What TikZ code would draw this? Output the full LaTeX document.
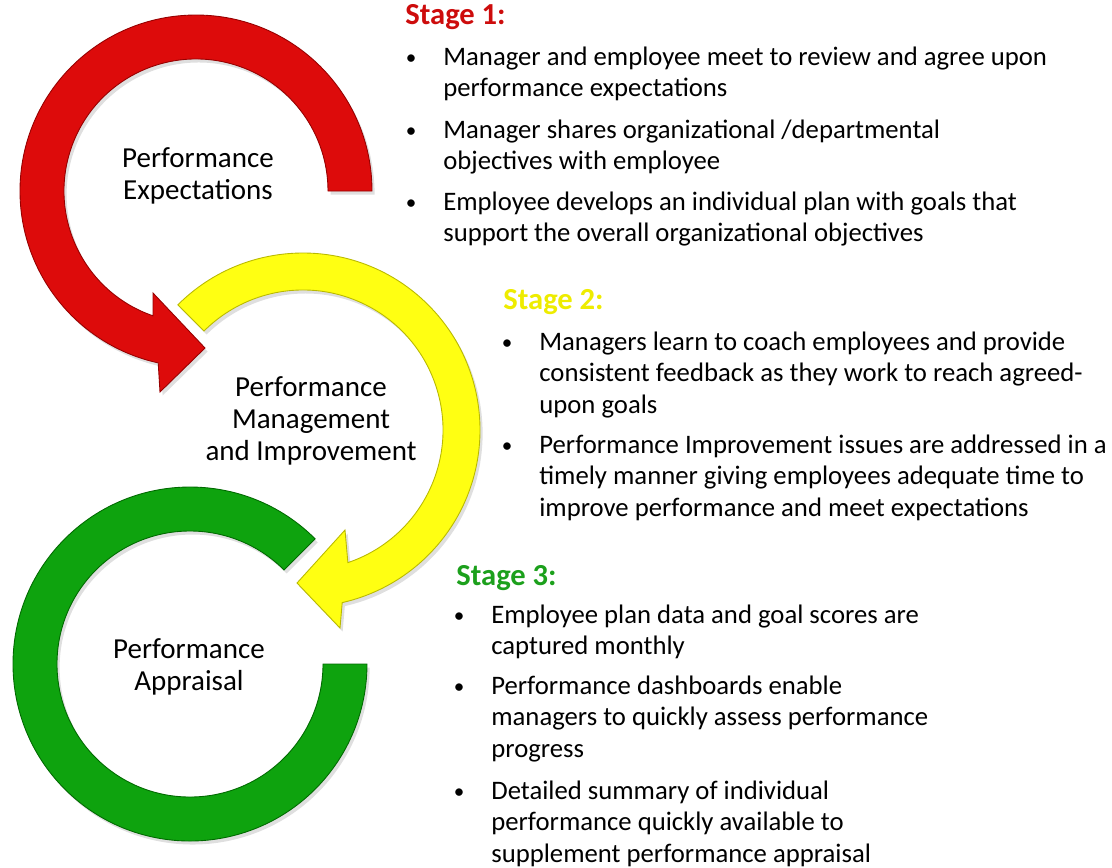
\documentclass[tikz,border=0pt]{standalone}
\usepackage{fontspec}
\setmainfont{Carlito}
\usetikzlibrary{calc, shadows}
\definecolor{redfill}{RGB}{221,11,11}
\definecolor{rededge}{RGB}{150,0,0}
\definecolor{yellowfill}{RGB}{255,255,18}
\definecolor{yellowedge}{RGB}{185,185,0}
\definecolor{greenfill}{RGB}{14,163,14}
\definecolor{greenedge}{RGB}{0,105,0}
\definecolor{stageone}{RGB}{205,12,12}
\definecolor{stagetwo}{RGB}{238,236,0}
\definecolor{stagethree}{RGB}{28,160,28}

\begin{document}
\begin{tikzpicture}[x=0.02cm, y=0.02cm,
    ring/.style={line width=0.5pt, drop shadow={opacity=0.25, shadow xshift=1.5pt, shadow yshift=-2pt}},
    label/.style={align=center, inner sep=0pt, font=\fontsize{16.5}{18}\selectfont},
    item/.style={anchor=base west, inner sep=0pt, font=\fontsize{15.2}{18}\selectfont},
    dot/.style={anchor=base, inner sep=0pt, font=\fontsize{12}{14}\selectfont},
    stage/.style={anchor=base west, inner sep=0pt, font=\fontsize{17.4}{20}\selectfont\bfseries}]
    \useasboundingbox (0,0) rectangle (1112,-867);
    \newcommand{\stageitem}[4]{
        \node[dot] (#3dot) at (#1-32, -#2+1) {\textbullet};
        \node[item] (#3) at (#1, -#2) {\begin{tabular}[t]{@{}l@{}}#4\end{tabular}};
    }

    % the three rings
    \coordinate (rc) at (196,-191);
    \coordinate (yc) at (303,-430);
    \coordinate (gc) at (190,-664);
    \fill[redfill, draw=rededge, ring] ([shift={(0:176)}]rc)
        arc[start angle=0, end angle=257.6, radius=176]
        -- (160,-392) -- (205,-348) -- (153,-293)
        -- ([shift={(251:132)}]rc) arc[start angle=251, end angle=0, radius=132] -- cycle;
    \fill[yellowfill, draw=yellowedge, ring] ([shift={(135:177)}]yc)
        arc[start angle=135, end angle=-77.2, radius=177]
        -- (340,-628) -- (297,-583) -- (345,-530)
        -- ([shift={(-71.3:140)}]yc) arc[start angle=-71.3, end angle=135, radius=140] -- cycle;
    \fill[greenfill, draw=greenedge, ring] ([shift={(45:177)}]gc)
        arc[start angle=45, end angle=360, radius=177]
        -- ([shift={(0:133)}]gc) arc[start angle=360, end angle=45, radius=133] -- cycle;

    \node[label] (expect) at (198,-176) {Performance\\Expectations};
    \node[label] (manage) at (311,-421) {Performance\\Management\\and Improvement};
    \node[label] (apprais) at (189,-667) {Performance\\Appraisal};

    % stage 1
    \node[stage, text=stageone] (stage1) at (405,-24) {Stage 1:};
    \stageitem{443}{65}{s1a}{Manager and employee meet to review and agree upon\\performance expectations}
    \stageitem{443}{138}{s1b}{Manager shares organizational /departmental\\objectives with employee}
    \stageitem{443}{210}{s1c}{Employee develops an individual plan with goals that\\support the overall organizational objectives}

    % stage 2
    \node[stage, text=stagetwo] (stage2) at (503,-309) {Stage 2:};
    \stageitem{539}{350}{s2a}{Managers learn to coach employees and provide\\consistent feedback as they work to reach agreed-\\upon goals}
    \stageitem{539}{453}{s2b}{Performance Improvement issues are addressed in a\\timely manner giving employees adequate time to\\improve performance and meet expectations}

    % stage 3
    \node[stage, text=stagethree] (stage3) at (456,-585) {Stage 3:};
    \stageitem{491}{623}{s3a}{Employee plan data and goal scores are\\captured monthly}
    \stageitem{491}{694}{s3b}{Performance dashboards enable\\managers to quickly assess performance\\progress}
    \stageitem{491}{799}{s3c}{Detailed summary of individual\\performance quickly available to\\supplement performance appraisal}
\end{tikzpicture}
\end{document}
